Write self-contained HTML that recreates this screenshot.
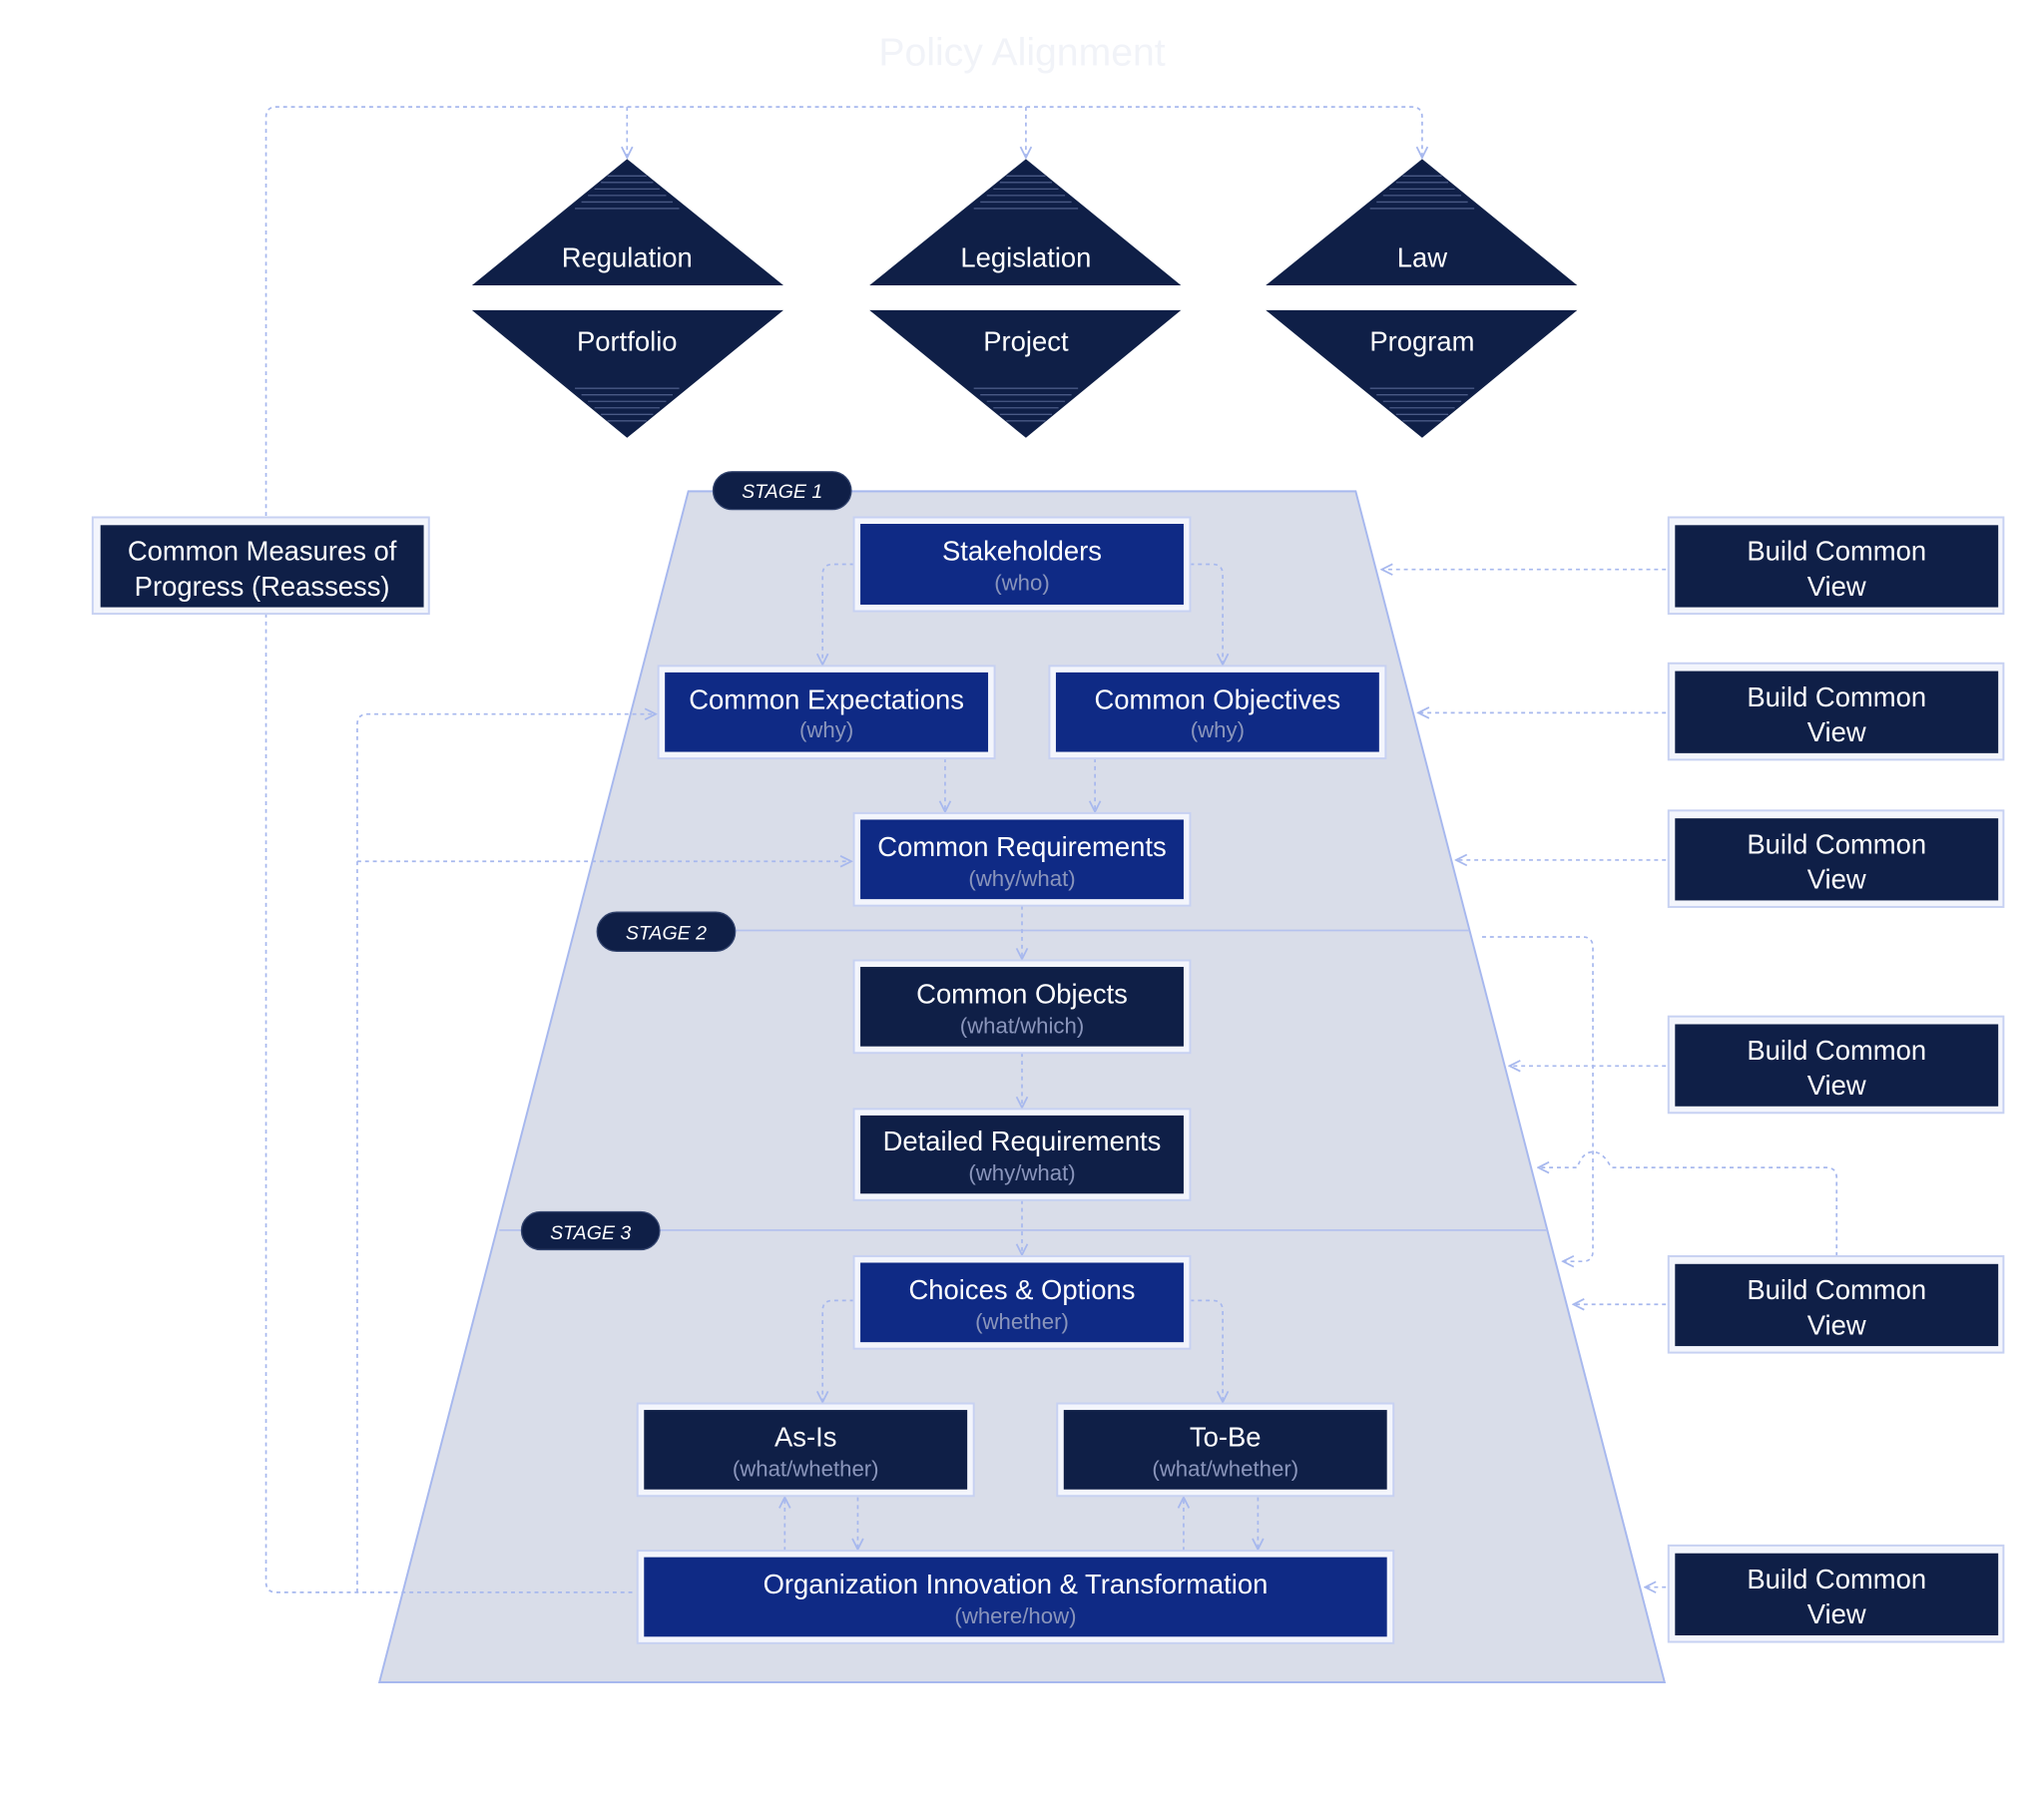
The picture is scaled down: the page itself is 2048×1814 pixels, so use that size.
<!DOCTYPE html>
<html><head><meta charset="utf-8"><style>
html,body{margin:0;padding:0;background:#fff;}
svg{display:block}
text{font-family:"Liberation Sans",sans-serif;}
</style></head><body>
<svg width="2048" height="1814" viewBox="0 0 1568 1389" xmlns="http://www.w3.org/2000/svg">
<defs>
<marker id="a" viewBox="0 0 10 10" refX="9" refY="5" markerWidth="8" markerHeight="8" orient="auto-start-reverse"><path d="M1,1 L9,5 L1,9" fill="none" stroke="#a7b8ee" stroke-width="1.3"/></marker>
</defs>
<text x="784" y="50" text-anchor="middle" font-size="30" fill="#f1f3f8">Policy Alignment</text>

<!-- trapezoid -->
<polygon points="528,377 1040,377 1277,1291 291,1291" fill="#d9dde9" stroke="#a7b8ee" stroke-width="1.5"/>
<line x1="458" y1="714" x2="1127" y2="714" stroke="#b5c2ee" stroke-width="1.3"/>
<line x1="383" y1="944" x2="1187" y2="944" stroke="#b5c2ee" stroke-width="1.3"/>

<g fill="none" stroke="#a7b8ee" stroke-width="1.3" stroke-dasharray="3 3">
<!-- top loop -->
<path d="M485,1222 H212 Q204,1222 204,1214 V90 Q204,82 212,82 H1083 Q1091,82 1091,90 V121" marker-end="url(#a)"/>
<path d="M481,82 V121" marker-end="url(#a)"/>
<path d="M787,82 V121" marker-end="url(#a)"/>
<!-- left loops -->
<path d="M274,1222 V556 Q274,548 282,548 H503" marker-end="url(#a)"/>
<path d="M274,661 H653" marker-end="url(#a)"/>
<!-- BCV arrows -->
<path d="M1278,437 H1060" marker-end="url(#a)"/>
<path d="M1278,547 H1088" marker-end="url(#a)"/>
<path d="M1278,660 H1117" marker-end="url(#a)"/>
<path d="M1278,818 H1158" marker-end="url(#a)"/>
<path d="M1278,1001 H1207" marker-end="url(#a)"/>
<path d="M1278,1218 H1262" marker-end="url(#a)"/>
<path d="M1137,719 H1214 Q1222,719 1222,727 V960 Q1222,968 1214,968 H1199" marker-end="url(#a)"/>
<path d="M1409,964 V904 Q1409,896 1401,896 H1236 Q1230,884 1222,884 Q1214,884 1210,896 H1180" marker-end="url(#a)"/>
<!-- internal -->
<path d="M655,433 H639 Q631,433 631,441 V510" marker-end="url(#a)"/>
<path d="M913,433 H930 Q938,433 938,441 V510" marker-end="url(#a)"/>
<path d="M725,582 V623" marker-end="url(#a)"/>
<path d="M840,582 V623" marker-end="url(#a)"/>
<path d="M784,695 V736" marker-end="url(#a)"/>
<path d="M784,808 V850" marker-end="url(#a)"/>
<path d="M784,921 V963" marker-end="url(#a)"/>
<path d="M655,998 H639 Q631,998 631,1006 V1076" marker-end="url(#a)"/>
<path d="M913,998 H930 Q938,998 938,1006 V1076" marker-end="url(#a)"/>
<path d="M602,1190 V1149" marker-end="url(#a)"/>
<path d="M658,1149 V1189" marker-end="url(#a)"/>
<path d="M908,1190 V1149" marker-end="url(#a)"/>
<path d="M965,1149 V1189" marker-end="url(#a)"/>
</g>

<!-- triangles -->
<g fill="#0f1f47">
<polygon points="481,122 601,219 362,219"/><polygon points="362,238 601,238 481,336"/>
<polygon points="787,122 906,219 667,219"/><polygon points="667,238 906,238 787,336"/>
<polygon points="1091,122 1210,219 971,219"/><polygon points="971,238 1210,238 1091,336"/>
</g>
<g stroke="#4a5a86" stroke-width="1">
<path d="M466,135H496M461,140H501M456,145H506M451,150H511M446,155H516M441,160H521"/>
<path d="M772,135H802M767,140H807M762,145H812M757,150H817M752,155H822M747,160H827"/>
<path d="M1076,135H1106M1071,140H1111M1066,145H1116M1061,150H1121M1056,155H1126M1051,160H1131"/>
<path d="M441,298H521M446,303H516M451,308H511M456,313H506M461,318H501M466,323H496"/>
<path d="M747,298H827M752,303H822M757,308H817M762,313H812M767,318H807M772,323H802"/>
<path d="M1051,298H1131M1056,303H1126M1061,308H1121M1066,313H1116M1071,318H1111M1076,323H1106"/>
</g>
<g fill="#fff" font-size="21" text-anchor="middle">
<text x="481" y="205">Regulation</text><text x="481" y="269">Portfolio</text>
<text x="787" y="205">Legislation</text><text x="787" y="269">Project</text>
<text x="1091" y="205">Law</text><text x="1091" y="269">Program</text>
</g>

<!-- stage pills -->
<g fill="#0f1f47" stroke="#33446e" stroke-width="1">
<rect x="547" y="362" width="106" height="29" rx="14.5"/>
<rect x="458" y="700" width="106" height="30" rx="15"/>
<rect x="400" y="930" width="106" height="29" rx="14.5"/>
</g>
<g fill="#fff" font-size="15" font-style="italic" text-anchor="middle">
<text x="600" y="382">STAGE 1</text><text x="511" y="721">STAGE 2</text><text x="453" y="951">STAGE 3</text>
</g>

<!-- boxes -->
<g stroke-width="1.5" stroke="#c7d1f2" fill="#f3f5fc">
<rect x="655" y="397" width="258" height="72"/>
<rect x="505" y="511" width="258" height="71"/>
<rect x="805" y="511" width="258" height="71"/>
<rect x="655" y="624" width="258" height="71"/>
<rect x="655" y="737" width="258" height="71"/>
<rect x="655" y="851" width="258" height="70"/>
<rect x="655" y="964" width="258" height="71"/>
<rect x="489" y="1077" width="258" height="71"/>
<rect x="811" y="1077" width="258" height="71"/>
<rect x="489" y="1190" width="580" height="71"/>
<rect x="71" y="397" width="258" height="74"/>
<rect x="1280" y="397" width="257" height="74"/>
<rect x="1280" y="509" width="257" height="74"/>
<rect x="1280" y="622" width="257" height="74"/>
<rect x="1280" y="780" width="257" height="74"/>
<rect x="1280" y="964" width="257" height="74"/>
<rect x="1280" y="1186" width="257" height="74"/>
</g>
<g fill="#0f2a85">
<rect x="660" y="402" width="248" height="62"/>
<rect x="510" y="516" width="248" height="61"/>
<rect x="810" y="516" width="248" height="61"/>
<rect x="660" y="629" width="248" height="61"/>
<rect x="660" y="969" width="248" height="61"/>
<rect x="494" y="1195" width="570" height="61"/>
</g>
<g fill="#0f1f47">
<rect x="660" y="742" width="248" height="61"/>
<rect x="660" y="856" width="248" height="60"/>
<rect x="494" y="1082" width="248" height="61"/>
<rect x="816" y="1082" width="248" height="61"/>
<rect x="77" y="403" width="248" height="63"/>
<rect x="1285" y="403" width="248" height="63"/>
<rect x="1285" y="515" width="248" height="63"/>
<rect x="1285" y="628" width="248" height="63"/>
<rect x="1285" y="786" width="248" height="63"/>
<rect x="1285" y="970" width="248" height="63"/>
<rect x="1285" y="1192" width="248" height="63"/>
</g>
<g fill="#fff" font-size="21" text-anchor="middle">
<text x="784" y="430">Stakeholders</text>
<text x="634" y="544">Common Expectations</text>
<text x="934" y="544">Common Objectives</text>
<text x="784" y="657">Common Requirements</text>
<text x="784" y="770">Common Objects</text>
<text x="784" y="883">Detailed Requirements</text>
<text x="784" y="997">Choices &amp; Options</text>
<text x="618" y="1110">As-Is</text>
<text x="940" y="1110">To-Be</text>
<text x="779" y="1223">Organization Innovation &amp; Transformation</text>
<text x="201" y="430">Common Measures of</text>
<text x="201" y="457">Progress (Reassess)</text>
<g>
<text x="1409" y="430">Build Common</text><text x="1409" y="457">View</text>
<text x="1409" y="542">Build Common</text><text x="1409" y="569">View</text>
<text x="1409" y="655">Build Common</text><text x="1409" y="682">View</text>
<text x="1409" y="813">Build Common</text><text x="1409" y="840">View</text>
<text x="1409" y="997">Build Common</text><text x="1409" y="1024">View</text>
<text x="1409" y="1219">Build Common</text><text x="1409" y="1246">View</text>
</g>
</g>
<g fill="#8a95bb" font-size="17" text-anchor="middle">
<text x="784" y="453">(who)</text>
<text x="634" y="566">(why)</text>
<text x="934" y="566">(why)</text>
<text x="784" y="680">(why/what)</text>
<text x="784" y="793">(what/which)</text>
<text x="784" y="906">(why/what)</text>
<text x="784" y="1020">(whether)</text>
<text x="618" y="1133">(what/whether)</text>
<text x="940" y="1133">(what/whether)</text>
<text x="779" y="1246">(where/how)</text>
</g>
</svg>
</body></html>
